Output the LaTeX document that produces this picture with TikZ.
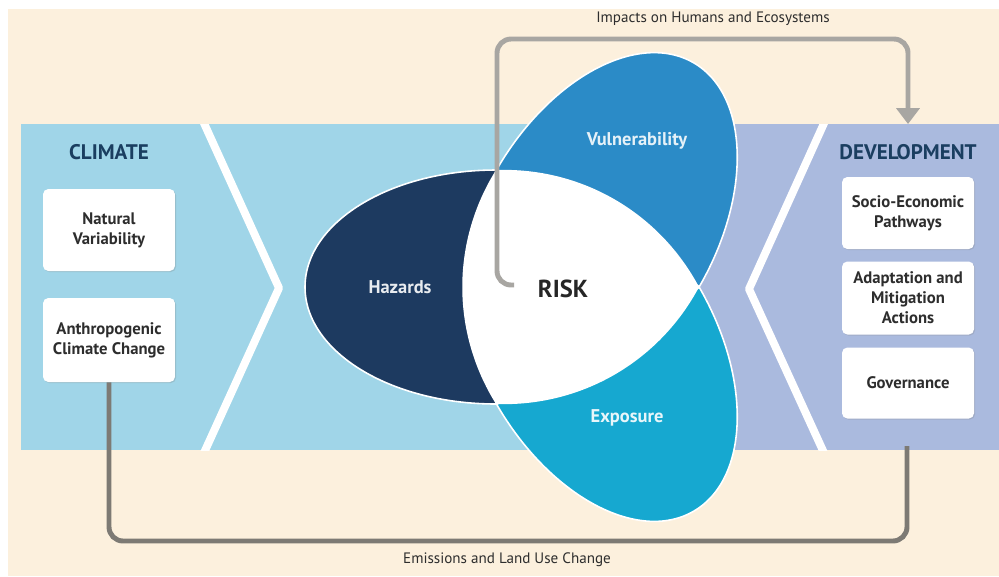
\documentclass[tikz,border=0pt]{standalone}
\usepackage{fontspec}
\setmainfont{PT Sans}
\usetikzlibrary{arrows.meta,shadows}

\definecolor{cream}{RGB}{252,240,221}
\definecolor{climblue}{RGB}{160,213,232}
\definecolor{devlilac}{RGB}{170,186,222}
\definecolor{hazblue}{RGB}{29,58,96}
\definecolor{vulblue}{RGB}{43,139,199}
\definecolor{expblue}{RGB}{22,168,208}
\definecolor{headblue}{RGB}{26,62,96}
\definecolor{txtgray}{RGB}{45,45,45}
\definecolor{impgray}{RGB}{168,166,162}
\definecolor{emigray}{RGB}{125,122,116}

\tikzstyle{box}=[fill=white, rounded corners=3pt, minimum width=2.64cm, align=center, text=txtgray, font=\bfseries\fontsize{9.5}{11.3}\selectfont, drop shadow={shadow xshift=0.6pt, shadow yshift=-0.6pt, opacity=0.25}]
\tikzstyle{head}=[font=\bfseries\fontsize{12}{14}\selectfont]
\tikzstyle{petal}=[draw=white, line width=0.9pt]
\tikzstyle{plabel}=[font=\bfseries\fontsize{10.5}{12}\selectfont]
\tikzstyle{caption}=[font=\fontsize{8.6}{10}\selectfont, text=txtgray]
\tikzstyle{chevron}=[draw=white, line width=4.5pt, line join=round]
\tikzstyle{link}=[line width=2.8pt, rounded corners=8pt]

\begin{document}
\begin{tikzpicture}[x=0.02cm, y=-0.02cm]
            \useasboundingbox (0,0) rectangle (999,576);
            \fill[white] (0,0) rectangle (999,576);
            \fill[cream] (8,9) rectangle (999,576);
            \fill[climblue] (21,124) rectangle (700,450);
            \fill[devlilac] (700,124) rectangle (999,450);
            \begin{scope}
                \clip (21,124) rectangle (999,450);
                \draw[chevron] (198,110) -- (279,288) -- (198,466);
                \draw[chevron] (830,110) -- (749,289) -- (830,466);
            \end{scope}

            \node[head, text=headblue] at (109,152) (climate) {CLIMATE};
            \node[box, minimum height=1.64cm] at (109,230) (natvar) {Natural\\Variability};
            \node[box, minimum height=1.68cm] at (109,340) (anthro) {Anthropogenic\\Climate Change};

            \node[head, text=headblue] at (908,152) (develop) {DEVELOPMENT};
            \node[box, minimum height=1.44cm] at (908,213) (socio) {Socio-Economic\\Pathways};
            \node[box, minimum height=1.46cm] at (908,298) (adapt) {Adaptation and\\Mitigation\\Actions};
            \node[box, minimum height=1.42cm] at (908,383) (govern) {Governance};

            \begin{scope}[shift={(564,287)}]
                \fill[petal, fill=hazblue] (-68,-117) .. controls (-173.5,-117) and (-259,-64.6) .. (-259,0) .. controls (-259,64.6) and (-173.5,117) .. (-68,117) -- cycle;
            \end{scope}
            \begin{scope}[shift={(564,287)}, rotate=-120]
                \fill[petal, fill=vulblue] (-68,-117) .. controls (-173.5,-117) and (-259,-64.6) .. (-259,0) .. controls (-259,64.6) and (-173.5,117) .. (-68,117) -- cycle;
            \end{scope}
            \begin{scope}[shift={(564,287)}, rotate=120]
                \fill[petal, fill=expblue] (-68,-117) .. controls (-173.5,-117) and (-259,-64.6) .. (-259,0) .. controls (-259,64.6) and (-173.5,117) .. (-68,117) -- cycle;
            \end{scope}
            \fill[white] (496,170) .. controls (581,167) and (659,212) .. (699,287) .. controls (659,362) and (581,407) .. (496,404) .. controls (451,332) and (451,242) .. (496,170) -- cycle;

            \node[plabel, text=white!90!hazblue] at (400,287) (hazards) {Hazards};
            \node[plabel, text=white!88!vulblue] at (637,141) (vulner) {Vulnerability};
            \node[plabel, text=white!90!expblue] at (627,418) (exposure) {Exposure};
            \node[font=\bfseries\fontsize{14}{16}\selectfont, text=black!85] at (563,289) (risk) {RISK};

            \coordinate (hook) at (514,285);
            \coordinate (devtop) at (908,124);
            \coordinate (devbot) at (907,446);
            \draw[link, impgray, -{Triangle[width=13pt, length=9pt]}] (hook) -| (497,39) -| (devtop);
            \draw[link, emigray] (anthro.south) |- (907,541) -- (devbot);

            \node[caption] at (713,19) (impacts) {Impacts on Humans and Ecosystems};
            \node[caption] at (507,560) (emission) {Emissions and Land Use Change};
        \end{tikzpicture}
\end{document}
